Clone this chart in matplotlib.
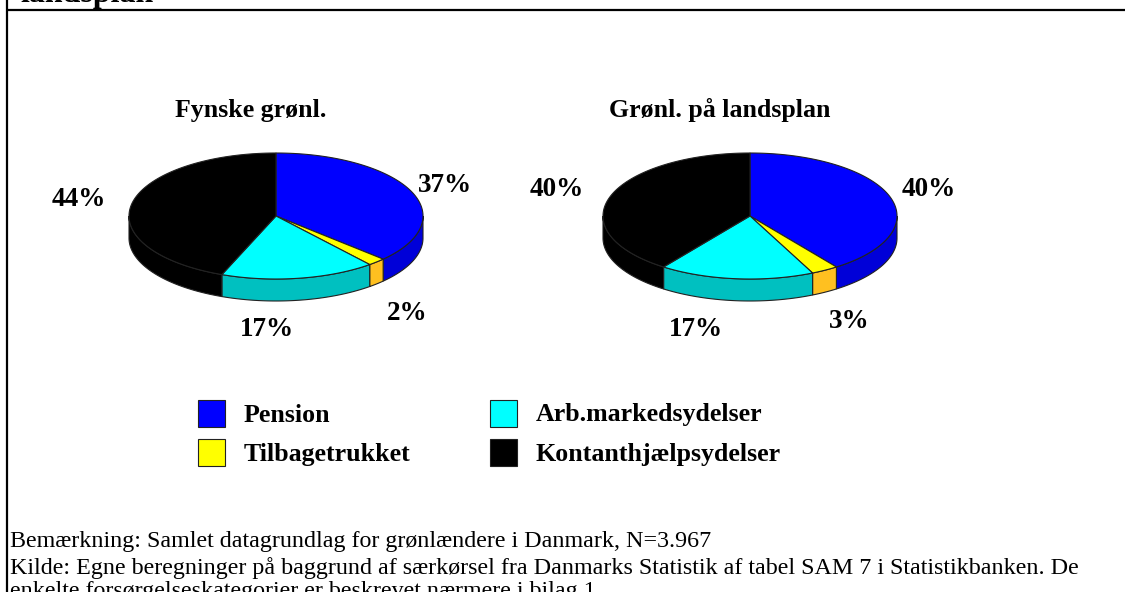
import numpy as np
import matplotlib
matplotlib.use("Agg")
import matplotlib.pyplot as plt
from matplotlib.patches import Polygon, Rectangle

# data
categories = ["Pension", "Tilbagetrukket", "Arb.markedsydelser", "Kontanthjælpsydelser"]
fyn_values = [37, 2, 17, 44]
land_values = [40, 3, 17, 40]
pie_titles = ["Fynske grønl.", "Grønl. på landsplan"]

top_colors = ["#0000FF", "#FFFF00", "#00FFFF", "#000000"]
side_colors = ["#0000D8", "#FFC020", "#00C0C0", "#000000"]

note_text = "Bemærkning: Samlet datagrundlag for grønlændere i Danmark, N=3.967"
source_line1 = "Kilde: Egne beregninger på baggrund af særkørsel fra Danmarks Statistik af tabel SAM 7 i Statistikbanken. De"
source_line2 = "enkelte forsørgelseskategorier er beskrevet nærmere i bilag 1"

plt.rcParams['font.family'] = ['Liberation Serif', 'DejaVu Serif']

fig = plt.figure(figsize=(11.25, 5.92), dpi=100)
ax = fig.add_axes([0, 0, 1, 1])
ax.set_xlim(0, 1125)
ax.set_ylim(592, 0)
ax.axis('off')


def pie3d(ax, cx, cy, rx, ry, depth, values):
    total = float(sum(values))
    start = 90.0
    bounds = []
    for v in values:
        end = start - 360.0 * v / total
        bounds.append((end, start))
        start = end
    # visible outer side (front half)
    for (lo, hi), c in zip(bounds, side_colors):
        a = max(lo, -180.0)
        b = min(hi, 0.0)
        if a >= b:
            continue
        t = np.radians(np.linspace(a, b, 80))
        x = cx + rx * np.cos(t)
        y = cy - ry * np.sin(t)
        pts = np.column_stack([np.concatenate([x, x[::-1]]),
                               np.concatenate([y, y[::-1] + depth])])
        ax.add_patch(Polygon(pts, closed=True, fc=c, ec='#222222', lw=0.8))
    # top face
    for (lo, hi), c in zip(bounds, top_colors):
        t = np.radians(np.linspace(hi, lo, 120))
        x = np.concatenate([[cx], cx + rx * np.cos(t)])
        y = np.concatenate([[cy], cy - ry * np.sin(t)])
        ax.add_patch(Polygon(np.column_stack([x, y]), closed=True, fc=c, ec='#222222', lw=0.8))


# frame
ax.plot([6.5, 6.5], [0, 592], color='black', lw=1.6, solid_capstyle='butt')
ax.plot([6.5, 1125], [9.5, 9.5], color='black', lw=1.6, solid_capstyle='butt')
ax.text(20, 2, "landsplan", fontsize=23, fontweight='bold', ha='left', va='baseline')

# pies
pie3d(ax, 276, 216, 147, 63, 22, fyn_values)
pie3d(ax, 750, 216, 147, 63, 22, land_values)

ax.text(251, 110, pie_titles[0], fontsize=18.6, fontweight='bold', ha='center', va='center')
ax.text(720, 110, pie_titles[1], fontsize=18.6, fontweight='bold', ha='center', va='center')

fyn_label_pos = [(445, 185), (407, 313), (267, 330), (79, 200)]
land_label_pos = [(929, 190), (849, 322), (696, 330), (557, 190)]
for vals, pos in [(fyn_values, fyn_label_pos), (land_values, land_label_pos)]:
    for v, (lx, ly) in zip(vals, pos):
        ax.text(lx, ly, f"{v}%", fontsize=19.5, fontweight='bold', ha='center', va='center')

# legend
leg_pos = [(198, 400), (198, 439), (490, 400), (490, 439)]
for i, (sx, sy) in enumerate(leg_pos):
    ax.add_patch(Rectangle((sx, sy), 27, 27, fc=top_colors[i], ec='#222222', lw=0.8))
    ax.text(sx + 46, sy + 15, categories[i], fontsize=18.6, fontweight='bold', ha='left', va='center')

# notes
ax.text(10, 541, note_text, fontsize=17.3, ha='left', va='center')
ax.text(10, 568, source_line1, fontsize=17.3, ha='left', va='center')
ax.text(10, 591, source_line2, fontsize=17.3, ha='left', va='center')

fig.savefig("out.png", dpi=100)
